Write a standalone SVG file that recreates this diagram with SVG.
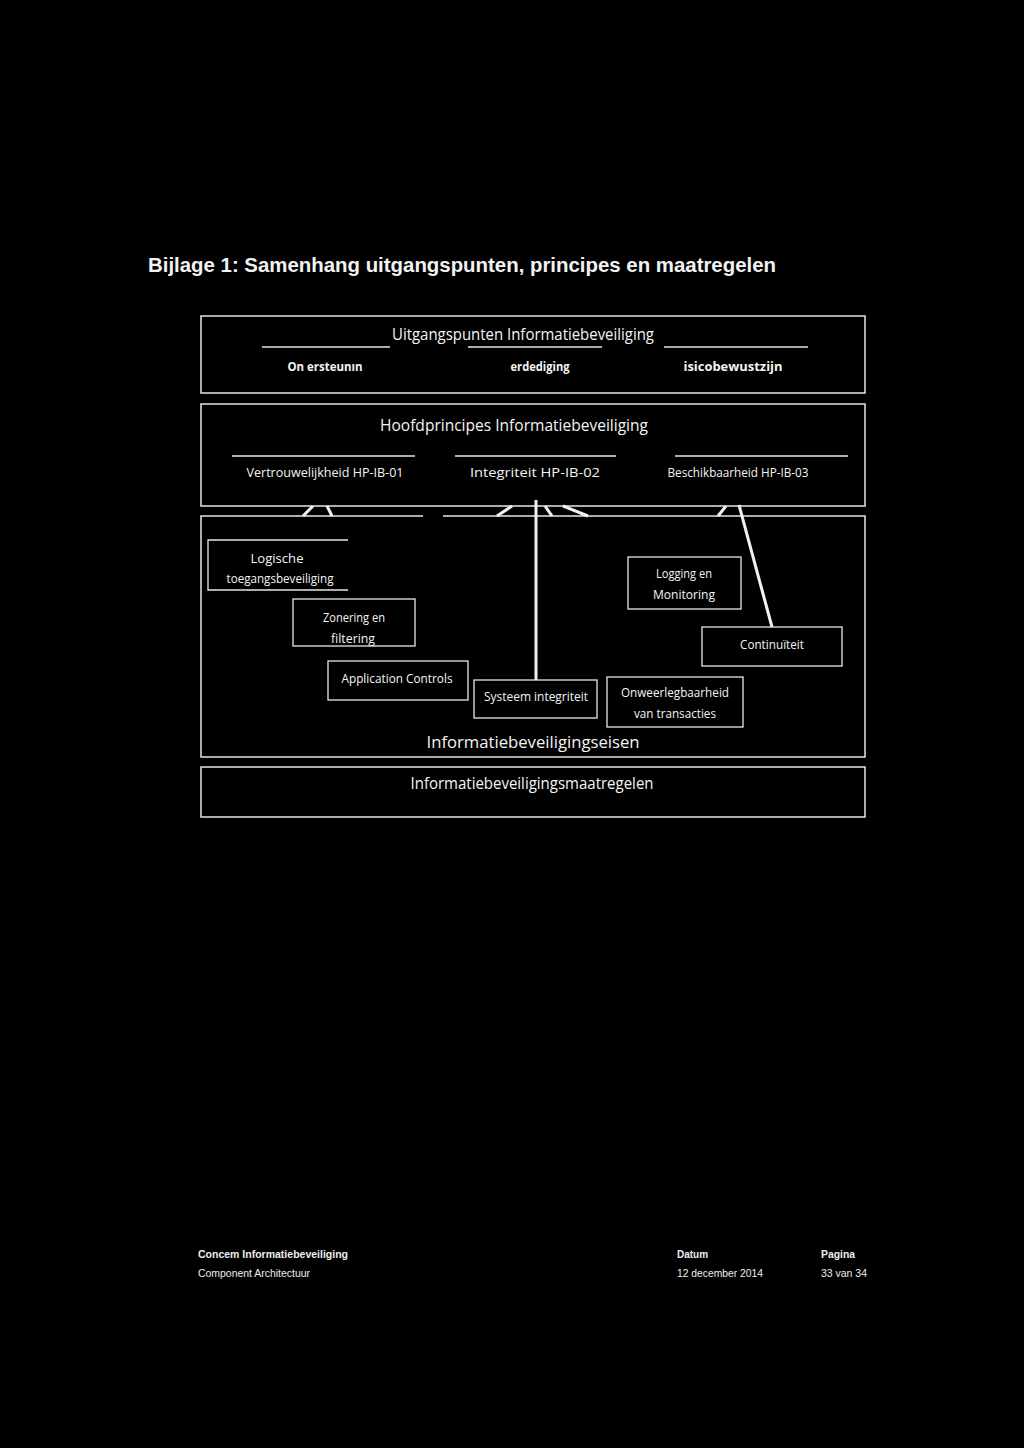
<svg xmlns="http://www.w3.org/2000/svg" width="1024" height="1448" viewBox="0 0 1024 1448">
<style>
.bg{fill:#000}
.frame{fill:none;stroke:#e6e6e6;stroke-width:1.5}
.rule{stroke:#e6e6e6;stroke-width:1.5}
.box{fill:#000;stroke:#e6e6e6;stroke-width:1.3}
.conn{stroke:#f2f2f2;stroke-width:3;fill:none;stroke-linecap:butt}
.t{fill:#f4f4f4;font-family:"Open Sans","Noto Sans","Liberation Sans",sans-serif;text-anchor:middle}
.hdr{font-size:16.5px}
.sub{font-size:12px;font-weight:bold}
.lbl{font-size:12.5px}
.big{font-size:16px}
.title{fill:#f2f2f2;font-family:"Liberation Sans",Arial,sans-serif;font-size:20px;font-weight:bold}
.ft{fill:#eee;font-family:"Liberation Sans",Arial,sans-serif;font-size:10.5px}
.ftb{font-weight:bold}
</style>
<rect class="bg" x="0" y="0" width="1024" height="1448"/>

<text class="title" x="148" y="272" textLength="628" lengthAdjust="spacingAndGlyphs">Bijlage 1: Samenhang uitgangspunten, principes en maatregelen</text>

<g id="uitgangspunten">
<rect class="frame" x="201" y="316" width="664" height="77"/>
<text class="t hdr" x="523" y="340" textLength="262" lengthAdjust="spacingAndGlyphs">Uitgangspunten Informatiebeveiliging</text>
<line class="rule" x1="262" y1="347" x2="390" y2="347"/>
<line class="rule" x1="468" y1="347" x2="602" y2="347"/>
<line class="rule" x1="664" y1="347" x2="808" y2="347"/>
<text class="t sub" x="325" y="371" textLength="75" lengthAdjust="spacingAndGlyphs">On  ersteunın</text>
<text class="t sub" x="540" y="371" textLength="59" lengthAdjust="spacingAndGlyphs">erdediging</text>
<text class="t sub" x="733" y="371" textLength="99" lengthAdjust="spacingAndGlyphs">isicobewustzijn</text>
</g>

<g id="hoofdprincipes">
<rect class="frame" x="201" y="404" width="664" height="102"/>
<text class="t hdr" x="514" y="431" textLength="268" lengthAdjust="spacingAndGlyphs">Hoofdprincipes Informatiebeveiliging</text>
<line class="rule" x1="232" y1="456" x2="415" y2="456"/>
<line class="rule" x1="455" y1="456" x2="616" y2="456"/>
<line class="rule" x1="675" y1="456" x2="848" y2="456"/>
<text class="t lbl" x="325" y="477" textLength="157" lengthAdjust="spacingAndGlyphs">Vertrouwelijkheid HP-IB-01</text>
<text class="t lbl" x="535" y="477" textLength="130" lengthAdjust="spacingAndGlyphs">Integriteit HP-IB-02</text>
<text class="t lbl" x="738" y="477" textLength="141" lengthAdjust="spacingAndGlyphs">Beschikbaarheid HP-IB-03</text>
</g>

<g id="eisen">
<path class="frame" d="M423 516 H201 V757 H865 V516 H443"/>
<text class="t big" x="533" y="748" textLength="213" lengthAdjust="spacingAndGlyphs">Informatiebeveiligingseisen</text>
</g>

<g id="logische">
<path class="box" d="M348 540 H208 V590 H348"/>
<text class="t lbl" x="277" y="563" textLength="53" lengthAdjust="spacingAndGlyphs">Logische</text>
<text class="t lbl" x="280" y="583" textLength="107" lengthAdjust="spacingAndGlyphs">toegangsbeveiliging</text>
</g>

<g id="zonering">
<rect class="box" x="293" y="599" width="122" height="47"/>
<text class="t lbl" x="354" y="622" textLength="62" lengthAdjust="spacingAndGlyphs">Zonering en</text>
<text class="t lbl" x="353" y="643" textLength="44" lengthAdjust="spacingAndGlyphs">filtering</text>
</g>

<g id="application">
<rect class="box" x="328" y="661" width="140" height="39"/>
<text class="t lbl" x="397" y="683" textLength="111" lengthAdjust="spacingAndGlyphs">Application Controls</text>
</g>

<g id="systeem">
<rect class="box" x="474" y="680" width="123" height="38"/>
<text class="t lbl" x="536" y="701" textLength="104" lengthAdjust="spacingAndGlyphs">Systeem integriteit</text>
</g>

<g id="onweerlegbaarheid">
<rect class="box" x="607" y="677" width="136" height="50"/>
<text class="t lbl" x="675" y="697" textLength="108" lengthAdjust="spacingAndGlyphs">Onweerlegbaarheid</text>
<text class="t lbl" x="675" y="718" textLength="82" lengthAdjust="spacingAndGlyphs">van transacties</text>
</g>

<g id="logging">
<rect class="box" x="628" y="557" width="113" height="52"/>
<text class="t lbl" x="684" y="578" textLength="56" lengthAdjust="spacingAndGlyphs">Logging en</text>
<text class="t lbl" x="684" y="599" textLength="62" lengthAdjust="spacingAndGlyphs">Monitoring</text>
</g>

<g id="continuiteit">
<rect class="box" x="702" y="627" width="140" height="39"/>
<text class="t lbl" x="772" y="649" textLength="64" lengthAdjust="spacingAndGlyphs">Continuïteit</text>
</g>

<g id="maatregelen">
<rect class="frame" x="201" y="767" width="664" height="50"/>
<text class="t big" x="532" y="789" textLength="243" lengthAdjust="spacingAndGlyphs">Informatiebeveiligingsmaatregelen</text>
</g>

<g id="connectors">
<line class="conn" x1="536" y1="500" x2="536" y2="680"/>
<line class="conn" x1="739" y1="505" x2="772" y2="627"/>
<line class="conn" x1="303" y1="516" x2="313" y2="506"/>
<line class="conn" x1="327" y1="506" x2="332" y2="516"/>
<line class="conn" x1="497" y1="516" x2="512" y2="506"/>
<line class="conn" x1="545" y1="506" x2="552" y2="516"/>
<line class="conn" x1="563" y1="506" x2="588" y2="516"/>
<line class="conn" x1="718" y1="516" x2="726" y2="506"/>
</g>

<g id="footer">
<text class="ft ftb" x="198" y="1258" textLength="150" lengthAdjust="spacingAndGlyphs">Concem Informatiebeveiliging</text>
<text class="ft" x="198" y="1277" textLength="112" lengthAdjust="spacingAndGlyphs">Component Architectuur</text>
<text class="ft ftb" x="677" y="1258" textLength="31" lengthAdjust="spacingAndGlyphs">Datum</text>
<text class="ft" x="677" y="1277" textLength="86" lengthAdjust="spacingAndGlyphs">12 december 2014</text>
<text class="ft ftb" x="821" y="1258" textLength="34" lengthAdjust="spacingAndGlyphs">Pagina</text>
<text class="ft" x="821" y="1277" textLength="46" lengthAdjust="spacingAndGlyphs">33 van 34</text>
</g>
</svg>
